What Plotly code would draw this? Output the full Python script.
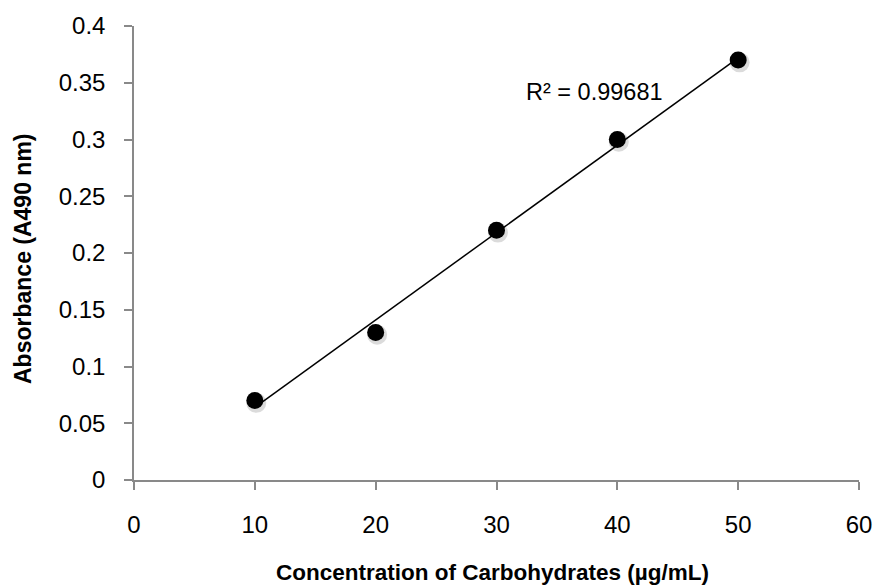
import numpy as np
import plotly.graph_objects as go

concentration = [10, 20, 30, 40, 50]
absorbance = [0.07, 0.13, 0.22, 0.30, 0.37]
r2_label = "R² = 0.99681"
x_title = "<b>Concentration of Carbohydrates (µg/mL)</b>"
y_title = "<b>Absorbance (A490 nm)</b>"
x_ticks = [0, 10, 20, 30, 40, 50, 60]
y_ticks = [0, 0.05, 0.1, 0.15, 0.2, 0.25, 0.3, 0.35, 0.4]

slope, intercept = np.polyfit(concentration, absorbance, 1)
trend_x = [min(concentration), max(concentration)]
trend_y = [slope * v + intercept for v in trend_x]

FONT = "Liberation Sans"
AX = "#898989"

fig = go.Figure()
fig.add_trace(go.Scatter(x=trend_x, y=trend_y, mode="lines",
                         line=dict(color="black", width=1.5), hoverinfo="skip"))
# soft shadow under markers
fig.add_trace(go.Scatter(x=[v + 0.12 for v in concentration], y=[v - 0.002 for v in absorbance],
                         mode="markers",
                         marker=dict(size=20, color="rgba(0,0,0,0.14)", line=dict(width=0)),
                         hoverinfo="skip"))
fig.add_trace(go.Scatter(x=concentration, y=absorbance, mode="markers",
                         marker=dict(size=17, color="black", line=dict(width=0))))

fig.add_annotation(x=38.1, y=0.3418, text=r2_label, showarrow=False,
                   font=dict(family=FONT, size=23.5, color="black"))

# axis titles placed relative to the plot area
fig.add_annotation(xref="paper", yref="paper", x=0.5, y=0, xshift=-4, yshift=-92,
                   xanchor="center", yanchor="middle", showarrow=False,
                   text=x_title, font=dict(family=FONT, size=22.5, color="black"))
fig.add_annotation(xref="paper", yref="paper", x=0, y=0.5, xshift=-111, yshift=-6,
                   xanchor="center", yanchor="middle", showarrow=False, textangle=-90,
                   text=y_title, font=dict(family=FONT, size=23, color="black"))

fig.update_layout(
    width=884, height=585,
    margin=dict(l=134, r=18, t=24, b=105),
    paper_bgcolor="white", plot_bgcolor="white",
    showlegend=False,
    font=dict(family=FONT, size=24, color="black"),
)
fig.update_xaxes(range=[0, 60], tickvals=x_ticks, ticktext=[str(v) for v in x_ticks],
                 showgrid=False, zeroline=False, showline=True, linecolor=AX, linewidth=1.5,
                 ticks="outside", ticklen=8, tickcolor=AX, tickwidth=1.5,
                 tickfont=dict(size=24), ticklabelstandoff=14, ticklabeloverflow="allow")
fig.update_yaxes(range=[0, 0.4], tickvals=y_ticks, ticktext=[f"{v:g}" for v in y_ticks],
                 showgrid=False, zeroline=False, showline=True, linecolor=AX, linewidth=1.5,
                 ticks="outside", ticklen=8, tickcolor=AX, tickwidth=1.5,
                 tickfont=dict(size=24), ticklabelstandoff=14, ticklabeloverflow="allow")

fig.write_html("out.html", config={"displayModeBar": False},
               post_script="document.body.style.margin='0px';document.body.style.overflow='hidden';")
